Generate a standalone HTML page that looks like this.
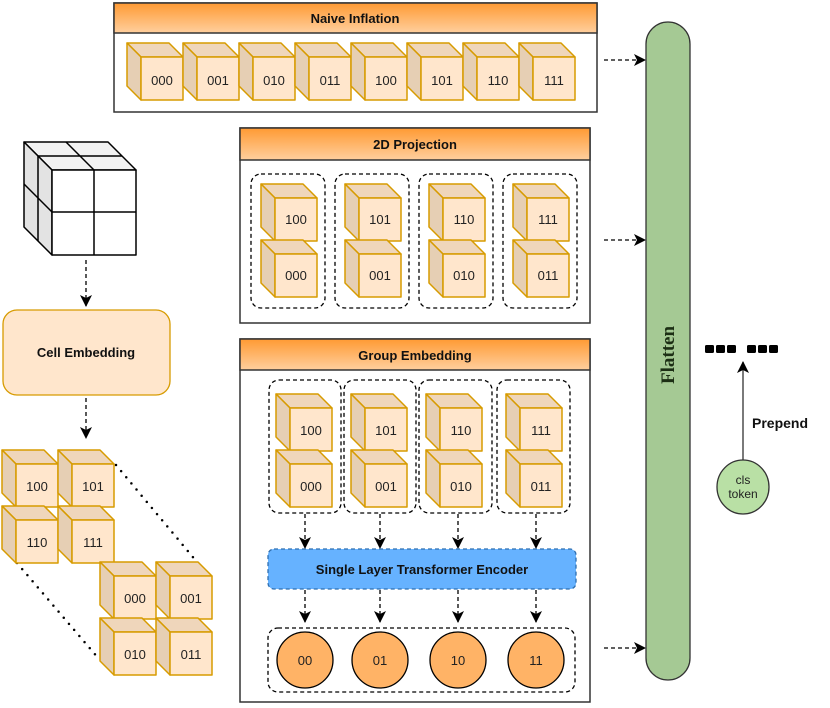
<!DOCTYPE html>
<html><head><meta charset="utf-8"><style>
html,body{margin:0;padding:0;background:#fff}
svg{display:block}
text{font-family:"Liberation Sans",sans-serif}
.lbl{font-size:13px;fill:#222;text-anchor:middle}
.hdr{font-size:13px;font-weight:bold;fill:#111;text-anchor:middle}
</style></head><body>
<svg width="830" height="708" viewBox="0 0 830 708" xmlns="http://www.w3.org/2000/svg">
<defs>
<linearGradient id="og" x1="0" y1="0" x2="0" y2="1"><stop offset="0" stop-color="#ff9a33"/><stop offset="1" stop-color="#ffcf9e"/></linearGradient>
<g id="cube" stroke="#d79b00" stroke-width="1.5" stroke-linejoin="round">
<polygon points="0,0 42,0 56,14 14,14" fill="#efd6bb"/>
<polygon points="0,0 14,14 14,57 0,43" fill="#e6cfb4"/>
<rect x="14" y="14" width="42" height="43" fill="#ffe6cc"/>
</g>
<marker id="ah" markerWidth="12" markerHeight="12" refX="11" refY="6" orient="auto" markerUnits="userSpaceOnUse"><path d="M0,0 L12,6 L0,12 L3,6 Z" fill="#000"/></marker>
</defs>

<!-- Naive Inflation -->
<rect x="114" y="3" width="483" height="109" fill="#fff" stroke="#333" stroke-width="1.5"/>
<rect x="114" y="3" width="483" height="30" fill="url(#og)" stroke="#333" stroke-width="1.5"/>
<text class="hdr" x="355" y="23">Naive Inflation</text>
<use href="#cube" x="127" y="43"/><text class="lbl" x="162" y="85">000</text>
<use href="#cube" x="183" y="43"/><text class="lbl" x="218" y="85">001</text>
<use href="#cube" x="239" y="43"/><text class="lbl" x="274" y="85">010</text>
<use href="#cube" x="295" y="43"/><text class="lbl" x="330" y="85">011</text>
<use href="#cube" x="351" y="43"/><text class="lbl" x="386" y="85">100</text>
<use href="#cube" x="407" y="43"/><text class="lbl" x="442" y="85">101</text>
<use href="#cube" x="463" y="43"/><text class="lbl" x="498" y="85">110</text>
<use href="#cube" x="519" y="43"/><text class="lbl" x="554" y="85">111</text>

<!-- 2D Projection -->
<rect x="240" y="128" width="350" height="195" fill="#fff" stroke="#333" stroke-width="1.5"/>
<rect x="240" y="128" width="350" height="32" fill="url(#og)" stroke="#333" stroke-width="1.5"/>
<text class="hdr" x="415" y="149">2D Projection</text>
<g fill="none" stroke="#000" stroke-width="1.3" stroke-dasharray="4,3">
<rect x="251" y="174" width="74" height="134" rx="10"/>
<rect x="335" y="174" width="74" height="134" rx="10"/>
<rect x="419" y="174" width="74" height="134" rx="10"/>
<rect x="503" y="174" width="74" height="134" rx="10"/>
</g>
<use href="#cube" x="261" y="184"/><text class="lbl" x="296" y="224">100</text>
<use href="#cube" x="261" y="240"/><text class="lbl" x="296" y="280">000</text>
<use href="#cube" x="345" y="184"/><text class="lbl" x="380" y="224">101</text>
<use href="#cube" x="345" y="240"/><text class="lbl" x="380" y="280">001</text>
<use href="#cube" x="429" y="184"/><text class="lbl" x="464" y="224">110</text>
<use href="#cube" x="429" y="240"/><text class="lbl" x="464" y="280">010</text>
<use href="#cube" x="513" y="184"/><text class="lbl" x="548" y="224">111</text>
<use href="#cube" x="513" y="240"/><text class="lbl" x="548" y="280">011</text>

<!-- Group Embedding -->
<rect x="240" y="339" width="350" height="363" fill="#fff" stroke="#333" stroke-width="1.5"/>
<rect x="240" y="339" width="350" height="31" fill="url(#og)" stroke="#333" stroke-width="1.5"/>
<text class="hdr" x="415" y="360">Group Embedding</text>
<g fill="none" stroke="#000" stroke-width="1.3" stroke-dasharray="4,3">
<rect x="269" y="380" width="72" height="133" rx="10"/>
<rect x="344" y="380" width="72" height="133" rx="10"/>
<rect x="419" y="380" width="73" height="133" rx="10"/>
<rect x="497" y="380" width="73" height="133" rx="10"/>
<rect x="268" y="628" width="307" height="64" rx="10"/>
</g>
<use href="#cube" x="276" y="394"/><text class="lbl" x="311" y="435">100</text>
<use href="#cube" x="276" y="450"/><text class="lbl" x="311" y="491">000</text>
<use href="#cube" x="351" y="394"/><text class="lbl" x="386" y="435">101</text>
<use href="#cube" x="351" y="450"/><text class="lbl" x="386" y="491">001</text>
<use href="#cube" x="426" y="394"/><text class="lbl" x="461" y="435">110</text>
<use href="#cube" x="426" y="450"/><text class="lbl" x="461" y="491">010</text>
<use href="#cube" x="506" y="394"/><text class="lbl" x="541" y="435">111</text>
<use href="#cube" x="506" y="450"/><text class="lbl" x="541" y="491">011</text>
<g stroke="#000" stroke-width="1.3" stroke-dasharray="4,3" marker-end="url(#ah)">
<line x1="305" y1="514" x2="305" y2="548"/><line x1="380" y1="514" x2="380" y2="548"/>
<line x1="458" y1="514" x2="458" y2="548"/><line x1="536" y1="514" x2="536" y2="548"/>
<line x1="305" y1="590" x2="305" y2="622"/><line x1="380" y1="590" x2="380" y2="622"/>
<line x1="458" y1="590" x2="458" y2="622"/><line x1="536" y1="590" x2="536" y2="622"/>
</g>
<rect x="268" y="549" width="308" height="40" rx="6" fill="#66b2ff" stroke="#2f6fb0" stroke-width="1.3" stroke-dasharray="4,3"/>
<text class="hdr" x="422" y="574">Single Layer Transformer Encoder</text>
<g fill="#ffb366" stroke="#000" stroke-width="1.3">
<circle cx="305" cy="660" r="28"/><circle cx="380" cy="660" r="28"/><circle cx="458" cy="660" r="28"/><circle cx="536" cy="660" r="28"/>
</g>
<text class="lbl" x="305" y="665">00</text><text class="lbl" x="380" y="665">01</text><text class="lbl" x="458" y="665">10</text><text class="lbl" x="536" y="665">11</text>

<!-- Flatten -->
<g stroke="#000" stroke-width="1.3" stroke-dasharray="4,3" marker-end="url(#ah)">
<line x1="604" y1="60" x2="645" y2="60"/>
<line x1="604" y1="240" x2="645" y2="240"/>
<line x1="604" y1="648" x2="645" y2="648"/>
</g>
<rect x="646" y="22" width="44" height="658" rx="22" fill="#a5c994" stroke="#333" stroke-width="1.3"/>
<text x="0" y="0" transform="translate(674,355) rotate(-90)" style="font-family:'Liberation Serif',serif;font-weight:bold;font-size:19px;fill:#1c2e14;text-anchor:middle">Flatten</text>

<!-- right side -->
<g fill="#000">
<rect x="705" y="345" width="9" height="8" rx="1.5"/><rect x="716" y="345" width="9" height="8" rx="1.5"/><rect x="727" y="345" width="9" height="8" rx="1.5"/>
<rect x="747" y="345" width="9" height="8" rx="1.5"/><rect x="758" y="345" width="9" height="8" rx="1.5"/><rect x="769" y="345" width="9" height="8" rx="1.5"/>
</g>
<line x1="743" y1="460" x2="743" y2="362" stroke="#333" stroke-width="1.3" marker-end="url(#ah)"/>
<text x="752" y="428" style="font-size:14px;font-weight:bold;fill:#111">Prepend</text>
<ellipse cx="743" cy="487" rx="26" ry="27" fill="#b9e0a5" stroke="#333" stroke-width="1.3"/>
<text class="lbl" x="743" y="484" style="font-size:12px">cls</text>
<text class="lbl" x="743" y="498" style="font-size:12px">token</text>

<!-- Big cube -->
<g stroke="#000" stroke-width="1.5" stroke-linejoin="round">
<polygon points="24,142 108,142 136,170 52,170" fill="#f2f2f2"/>
<polygon points="24,142 52,170 52,255 24,227" fill="#e3e3e3"/>
<rect x="52" y="170" width="84" height="85" fill="#fff"/>
<line x1="66" y1="142" x2="94" y2="170"/><line x1="38" y1="156" x2="122" y2="156"/>
<line x1="38" y1="156" x2="38" y2="241"/><line x1="24" y1="184" x2="52" y2="212"/>
<line x1="94" y1="170" x2="94" y2="255"/><line x1="52" y1="212" x2="136" y2="212"/>
</g>
<g stroke="#000" stroke-width="1.3" stroke-dasharray="4,3" marker-end="url(#ah)">
<line x1="86" y1="260" x2="86" y2="306"/>
<line x1="86" y1="398" x2="86" y2="438"/>
</g>
<rect x="3" y="310" width="167" height="85" rx="14" fill="#ffe6cc" stroke="#d79b00" stroke-width="1.3"/>
<text class="hdr" x="86" y="357">Cell Embedding</text>

<!-- left cube grid -->
<g stroke="#000" stroke-width="2.5" stroke-dasharray="0,8" stroke-linecap="round">
<line x1="116" y1="465" x2="197" y2="562"/>
<line x1="17" y1="563" x2="99" y2="659"/>
</g>
<use href="#cube" x="2" y="450"/><text class="lbl" x="37" y="491">100</text>
<use href="#cube" x="58" y="450"/><text class="lbl" x="93" y="491">101</text>
<use href="#cube" x="2" y="506"/><text class="lbl" x="37" y="547">110</text>
<use href="#cube" x="58" y="506"/><text class="lbl" x="93" y="547">111</text>
<use href="#cube" x="100" y="562"/><text class="lbl" x="135" y="603">000</text>
<use href="#cube" x="156" y="562"/><text class="lbl" x="191" y="603">001</text>
<use href="#cube" x="100" y="618"/><text class="lbl" x="135" y="659">010</text>
<use href="#cube" x="156" y="618"/><text class="lbl" x="191" y="659">011</text>
</svg>
</body></html>
